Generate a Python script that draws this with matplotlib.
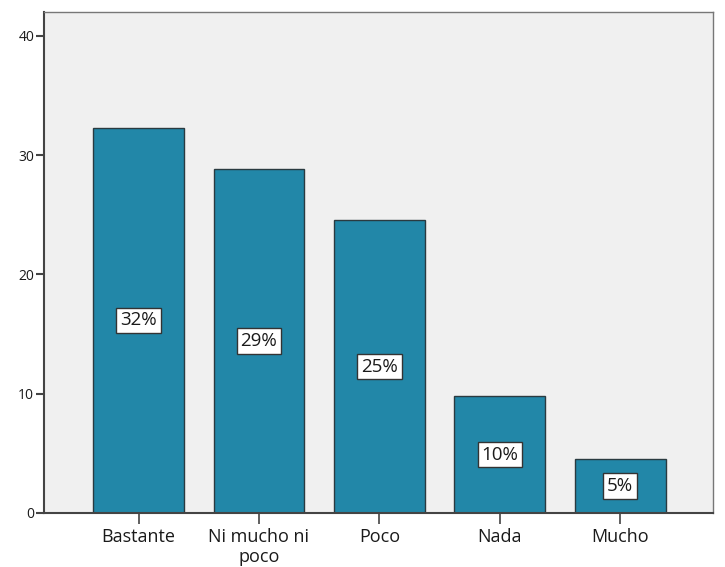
import matplotlib
matplotlib.use("Agg")
import matplotlib.pyplot as plt

categories = ["Bastante", "Ni mucho ni\npoco", "Poco", "Nada", "Mucho"]
values = [32.3, 28.85, 24.55, 9.8, 4.55]
pct_labels = ["32%", "29%", "25%", "10%", "5%"]
yticks = [0, 10, 20, 30, 40]

plt.rcParams['font.family'] = ['Open Sans', 'DejaVu Sans']

fig = plt.figure(figsize=(7.25, 5.67), dpi=100)
ax = fig.add_axes([44/725, 1-513/567, (713-44)/725, (513-12)/567])
ax.set_facecolor("#f0f0f0")

x = list(range(len(categories)))
bars = ax.bar(x, values, width=0.755, color="#2287a8", edgecolor="#2a3a40", linewidth=1.0, zorder=2)

# labels at bar middle
for xi, v, lab in zip(x, values, pct_labels):
    ax.text(xi, v/2, lab, ha="center", va="center", fontsize=13.5, color="#1a1a1a", zorder=3,
            bbox=dict(boxstyle="square,pad=0.2", facecolor="white", edgecolor="#333333", linewidth=1.0))

ax.set_xlim(-0.785, 4.77)
ax.set_ylim(0, 42)
ax.set_xticks(x)
ax.set_xticklabels(categories, fontsize=13, color="#1a1a1a", linespacing=1.1)
ax.set_yticks(yticks)
ax.set_yticklabels([str(t) for t in yticks], fontsize=10, color="#1a1a1a")
ax.tick_params(axis="y", direction="out", length=6, width=1.5, color="#444444", pad=1)
ax.tick_params(axis="x", direction="out", length=8, width=1.2, color="#444444", pad=3)

for side in ["left", "bottom"]:
    ax.spines[side].set_color("#444444")
    ax.spines[side].set_linewidth(1.5)
for side in ["top", "right"]:
    ax.spines[side].set_color("#777777")
    ax.spines[side].set_linewidth(1.0)

fig.savefig("out.png", dpi=100)
